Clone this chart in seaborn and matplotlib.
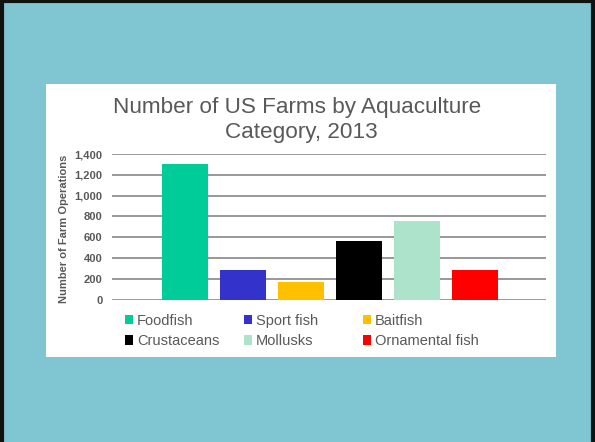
import matplotlib
matplotlib.use("Agg")
import matplotlib.pyplot as plt
import pandas as pd
import seaborn as sns
from matplotlib.patches import Rectangle

categories = ["Foodfish", "Sport fish", "Baitfish", "Crustaceans", "Mollusks", "Ornamental fish"]
farms = [1300, 285, 170, 560, 760, 285]
colors = ["#00CC99", "#3333CC", "#FFC000", "#000000", "#ADE3CB", "#FF0000"]
yticks = [0, 200, 400, 600, 800, 1000, 1200, 1400]
title_lines = ["Number of US Farms by Aquaculture", "Category, 2013"]
ylabel = "Number of Farm Operations"

sns.set_theme(style="white")
plt.rcParams["font.family"] = ["Liberation Sans", "DejaVu Sans"]

W, H = 595, 442
TXT = "#595959"

df = pd.DataFrame({"category": categories, "farms": farms})

fig = plt.figure(figsize=(W / 100, H / 100), dpi=100)
fig.patch.set_facecolor("#80C6D2")

# slide frame and white chart box
fig.patches.append(Rectangle((1.5 / W, -0.02), (W - 4) / W, 1.02 - 1.5 / H, transform=fig.transFigure,
                             facecolor="none", edgecolor="#111111", linewidth=3, zorder=-2))
fig.patches.append(Rectangle((46 / W, 1 - 357 / H), 510 / W, 273 / H, transform=fig.transFigure,
                             facecolor="white", edgecolor="none", zorder=-2))

ax = fig.add_axes([112 / W, 1 - 299.5 / H, 434 / W, 145.5 / H])
ax.set_facecolor("none")
sns.barplot(data=df, x="category", y="farms", hue="category", palette=dict(zip(categories, colors)),
            width=0.79, saturation=1, linewidth=0, legend=True, ax=ax, zorder=3)

ax.set_ylim(0, 1400)
ax.set_xlim(-1.26, 6.22)
ax.set_yticks(yticks)
ax.set_yticklabels([f"{v:,}" for v in yticks], fontsize=8, fontweight="bold", color=TXT)
ax.tick_params(axis="y", length=0, pad=7)
ax.set_xticks([])
ax.set_xlabel("")
ax.set_ylabel("")
ax.yaxis.grid(True, color="#868686", linewidth=1.2)
ax.set_axisbelow(True)
for s in ax.spines.values():
    s.set_visible(False)

fig.text(297.5 / W, 1 - 113 / H, title_lines[0], ha="center", va="baseline", fontsize=16.2, color=TXT)
fig.text(301.5 / W, 1 - 138 / H, title_lines[1], ha="center", va="baseline", fontsize=16.2, color=TXT)
fig.text(64 / W, 1 - 229 / H, ylabel, rotation=90, ha="center", va="center", fontsize=8,
         fontweight="bold", color=TXT)

handles, labels = ax.get_legend_handles_labels()
ax.get_legend().remove()
for i, x in enumerate([125, 244, 363]):
    fig.legend([handles[i], handles[i + 3]], [labels[i], labels[i + 3]], loc="upper left",
               bbox_to_anchor=(x / W, 1 - 314 / H), frameon=False, fontsize=10.5, labelcolor=TXT,
               handlelength=0.58, handleheight=0.58, handletextpad=0.25, labelspacing=0.42,
               borderpad=0, borderaxespad=0)

fig.savefig("out.png", dpi=100, facecolor=fig.get_facecolor())
